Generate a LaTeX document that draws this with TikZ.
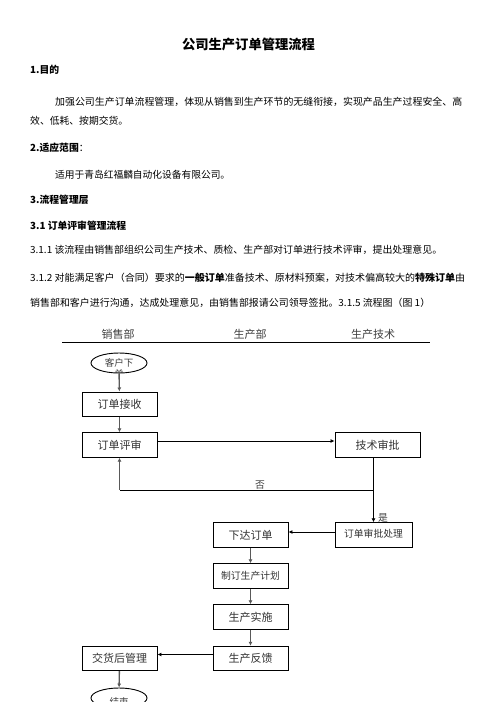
\documentclass[tikz,border=0pt]{standalone}
\usepackage{fontspec}
\usepackage{graphicx}
\newfontfamily\cjk{Noto Sans CJK SC}
\usetikzlibrary{shapes.geometric,arrows.meta}
\newcommand{\fitw}[2]{\resizebox{#1}{\height}{#2}}
\newcommand{\dn}[2]{\raisebox{#1}{#2}}
\tikzset{
  body/.style={font=\cjk\fontsize{9.8}{11}\selectfont, anchor=west, inner sep=0pt},
  head/.style={font=\cjk\bfseries\fontsize{9.8}{11}\selectfont, anchor=west, inner sep=0pt},
  lane/.style={font=\cjk\fontsize{11}{12}\selectfont, text=black!75, inner sep=0pt},
  fbox/.style={draw=black, line width=0.9pt, minimum width=75pt, minimum height=24.5pt, inner sep=0pt, font=\cjk\fontsize{11}{12}\selectfont, text=black!80},
  sbox/.style={fbox, font=\cjk\fontsize{9.8}{11}\selectfont},
  oval/.style={draw=black, line width=0.9pt, ellipse, minimum width=56pt, minimum height=20pt, inner sep=0pt},
  varrow/.style={draw=black!65, line width=1.4pt, -{Latex[length=4pt,width=4pt]}},
  harrow/.style={draw=black, line width=0.8pt, -{Latex[length=4pt,width=4pt]}},
  hl/.style={draw=black, line width=0.8pt},
  lbl/.style={font=\cjk\fontsize{9.8}{11}\selectfont, text=black!75, inner sep=0pt}
}
\begin{document}
\begin{tikzpicture}[x=1pt,y=-1pt]
\useasboundingbox[fill=white] (0,0) rectangle (496,702);
% text part
\node[font=\cjk\bfseries\fontsize{13.3}{15}\selectfont, inner sep=0pt] (title) at (248.5,44) {公司生产订单管理流程};
\node[head] (h1) at (30,70) {1.目的};
\node[body] (p1) at (55,102) {\fitw{407pt}{加强公司生产订单流程管理，体现从销售到生产环节的无缝衔接，实现产品生产过程安全、高}};
\node[body] (p2) at (30,121) {效、低耗、按期交货。};
\node[head] (h2) at (30,148) {2.适应范围\textmd{：}};
\node[body] (p3) at (55,175) {\fitw{175pt}{适用于青岛红福麟自动化设备有限公司。}};
\node[head] (h3) at (30,200) {3.流程管理层};
\node[head] (h31) at (30,226) {3.1 订单评审管理流程};
\node[body] (p4) at (30,250) {\fitw{412pt}{3.1.1 该流程由销售部组织公司生产技术、质检、生产部对订单进行技术评审，提出处理意见。}};
\node[body] (p5) at (30,278) {\fitw{435pt}{3.1.2 对能满足客户（合同）要求的\textbf{一般订单}准备技术、原材料预案，对技术偏高较大的\textbf{特殊订单}由}};
\node[body] (p6) at (30,303) {\fitw{400pt}{销售部和客户进行沟通，达成处理意见，由销售部报请公司领导签批。3.1.5 流程图（图 1）}};
% lanes
\node[lane] (l1) at (118,334) {销售部};
\node[lane] (l2) at (250,334) {生产部};
\node[lane] (l3) at (373,334) {生产技术};
\coordinate (ls) at (62,342.7);
\coordinate (le) at (430,342.7);
\draw[hl, line width=1pt] (ls) -- (le);
% start oval
\node[oval] (start) at (119,363) {};
\begin{scope}
\clip (119,363) ellipse (28pt and 10pt);
\node[lbl, align=center, font=\cjk\fontsize{9.5}{11}\selectfont] (starttxt) at (119,368) {客户下\\单};
\end{scope}
% boxes
\node[fbox] (recv) at (119.5,404.2) {\dn{-4.5pt}{订单接收}};
\node[fbox] (review) at (119.5,445) {\dn{-4pt}{订单评审}};
\node[fbox, minimum width=85pt] (tech) at (377.5,445) {\dn{-5pt}{技术审批}};
\node[sbox, minimum width=77pt] (approve) at (373.5,535) {\dn{3pt}{订单审批处理}};
\node[fbox] (order) at (250.5,535) {\dn{-4pt}{下达订单}};
\node[sbox] (plan) at (250.5,576) {\dn{0.5pt}{制订生产计划}};
\node[fbox] (exec) at (250.5,617) {\dn{-5pt}{生产实施}};
\node[fbox] (fb) at (250.5,658.5) {\dn{-3.5pt}{生产反馈}};
\node[fbox] (after) at (119.5,658.5) {\dn{-4.5pt}{交货后管理}};
% end oval
\node[oval] (end) at (119,698) {};
\begin{scope}
\clip (119,698) ellipse (28pt and 10pt);
\node[lbl, font=\cjk\fontsize{9.5}{11}\selectfont] (endtxt) at (119,702) {结束};
\end{scope}
% connectors
\draw[varrow] (start) -- (recv);
\draw[varrow] (recv) -- (review);
\draw[harrow] ([yshift=4pt]review.east) -- ([yshift=4pt]tech.west);
\coordinate (jr) at (373.5,490);
\coordinate (jl) at (119.5,490);
\draw[hl] (tech.south -| jr) -- (jr) -- (jl);
\draw[varrow] (jl) -- (review.south);
\draw[harrow] (jr) -- (approve.north);
\node[lbl] (no) at (260,485) {否};
\node[lbl] (yes) at (383,518) {是};
\draw[harrow] ([yshift=3pt]approve.west) -- ([yshift=3pt]order.east);
\draw[varrow] (order) -- (plan);
\draw[varrow] (plan) -- (exec);
\draw[varrow] (exec) -- (fb);
\draw[harrow] ([yshift=4pt]fb.west) -- ([yshift=4pt]after.east);
\draw[varrow] (after) -- (end);
\end{tikzpicture}
\end{document}
